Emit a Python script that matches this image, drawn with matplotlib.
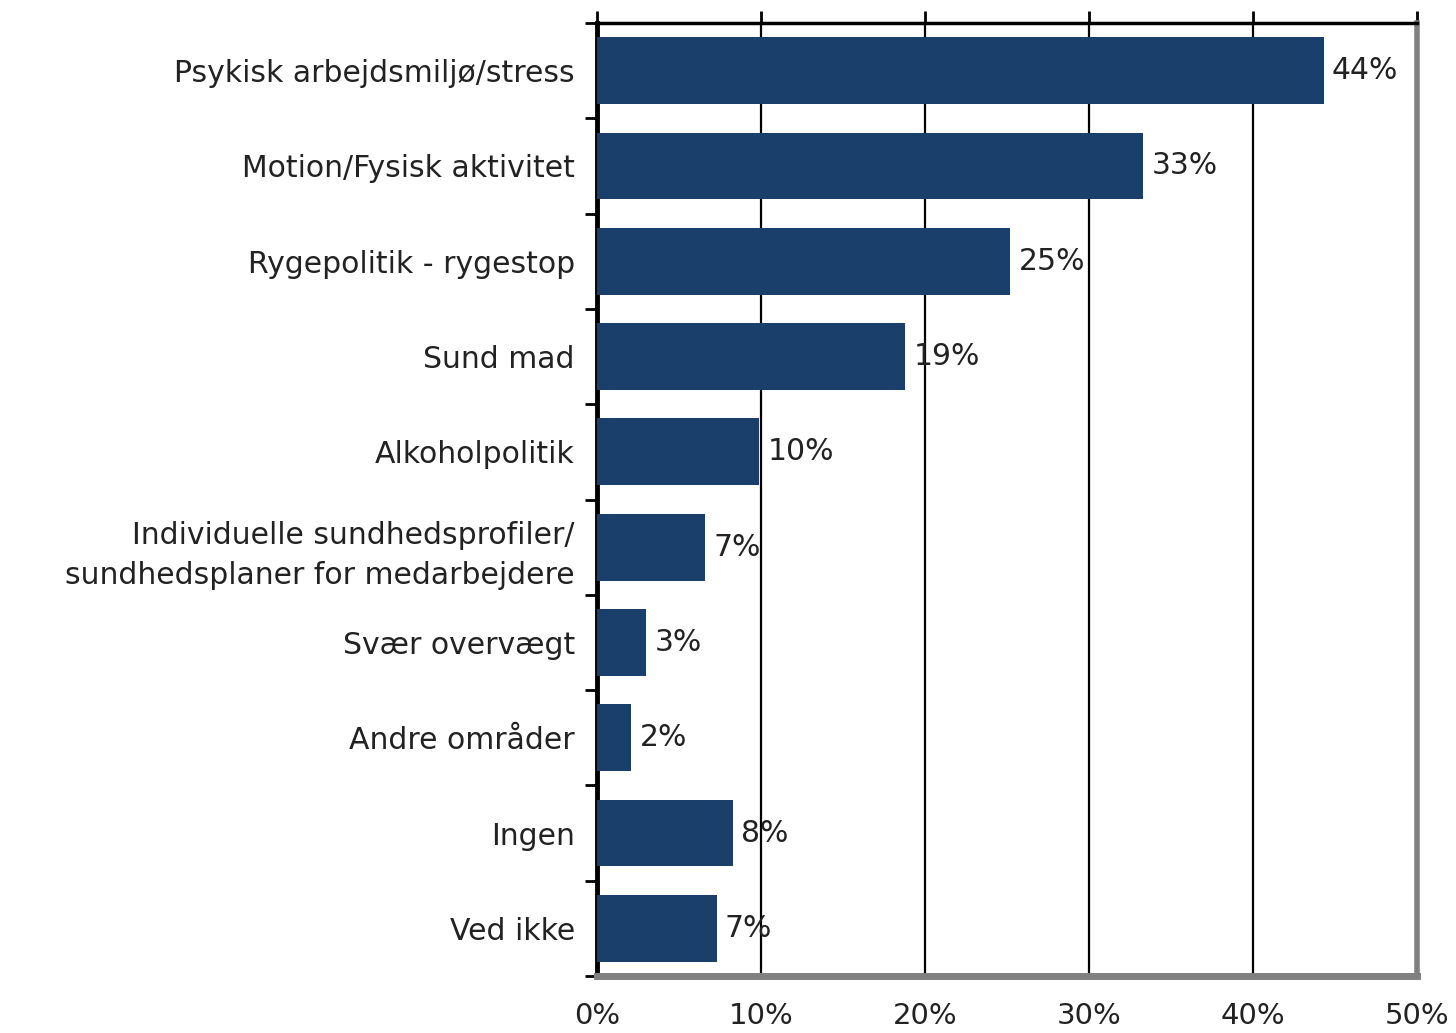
import matplotlib
matplotlib.use("Agg")
import matplotlib.pyplot as plt

categories = [
    "Psykisk arbejdsmiljø/stress",
    "Motion/Fysisk aktivitet",
    "Rygepolitik - rygestop",
    "Sund mad",
    "Alkoholpolitik",
    "Individuelle sundhedsprofiler/\nsundhedsplaner for medarbejdere",
    "Svær overvægt",
    "Andre områder",
    "Ingen",
    "Ved ikke",
]
values = [44.3, 33.3, 25.2, 18.8, 9.9, 6.6, 3.0, 2.1, 8.3, 7.3]
labels = ["44%", "33%", "25%", "19%", "10%", "7%", "3%", "2%", "8%", "7%"]
xticks = [0, 10, 20, 30, 40, 50]
xticklabels = ["0%", "10%", "20%", "30%", "40%", "50%"]

plt.rcParams['font.family'] = ['DejaVu Sans']
fig = plt.figure(figsize=(14.56, 10.33), dpi=100)
ax = fig.add_axes([597/1456, 1 - 976/1033, (1417-597)/1456, (976-23)/1033])

n = len(categories)
ypos = list(range(n))
ax.barh(ypos, values, height=0.70, color="#1a3f6a", zorder=3)
ax.set_ylim(n - 0.5, -0.5)
ax.set_xlim(0, 50)

for y, v, lab in zip(ypos, values, labels):
    ax.text(v + 0.5, y, lab, va="center", ha="left", fontsize=21.5, color="#222222", zorder=4)

ax.set_xticks(xticks)
ax.set_xticklabels(xticklabels, fontsize=21, color="#222222")
ax.tick_params(axis="x", which="both", bottom=False, top=True, labelbottom=True, labeltop=False,
               direction="out", length=9, width=2, color="black", pad=10)
ax.set_yticks(ypos)
ax.set_yticklabels(categories, fontsize=21.5, color="#222222", linespacing=1.45)
ax.tick_params(axis="y", which="major", length=0, pad=16)
ax.set_yticks([i + 0.5 for i in range(-1, n)], minor=True)
ax.tick_params(axis="y", which="minor", length=9, width=2, color="black", left=True)

for x in xticks[1:-1]:
    ax.axvline(x, color="black", lw=1.6, zorder=2)

ax.spines["top"].set_color("black")
ax.spines["top"].set_linewidth(2.5)
ax.spines["left"].set_color("black")
ax.spines["left"].set_linewidth(3.5)
ax.spines["right"].set_color("#808080")
ax.spines["right"].set_linewidth(4)
ax.spines["bottom"].set_color("#808080")
ax.spines["bottom"].set_linewidth(5)

fig.savefig("out.png", dpi=100, facecolor="white")
